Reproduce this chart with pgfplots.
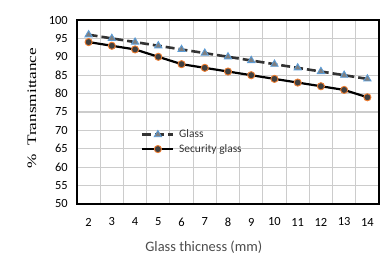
\documentclass[border=0pt]{standalone}
\usepackage{pgfplots}
\pgfplotsset{compat=1.18}
\usepackage{graphicx}
\usepackage{fontspec}
\setmainfont{Carlito}
\newfontfamily\serifx{Liberation Serif}
\definecolor{gridc}{HTML}{CCCCCC}
\definecolor{lnc}{HTML}{333333}
\definecolor{mk}{HTML}{404040}
\definecolor{bluee}{HTML}{5B9BD5}
\definecolor{trif}{HTML}{7F7F7F}
\definecolor{orangee}{HTML}{ED7D31}
\begin{document}
\begin{tikzpicture}
\path[use as bounding box] (0,0) rectangle (392bp,260bp);
\begin{axis}[
  at={(77bp,56bp)}, anchor=south west,
  scale only axis, width=302bp, height=184bp,
  xmin=1.5, xmax=14.5, ymin=50, ymax=100,
  xtick={2,...,14}, ytick={50,55,...,100},
  minor xtick={1.5,2.5,...,14.5},
  xmajorgrids=false, xminorgrids=true, ymajorgrids=true,
  minor grid style={gridc, line width=1.1bp},
  major grid style={gridc, line width=1.1bp},
  major tick length=0pt, minor tick length=0pt,
  axis line style={black, line width=2.4bp},
  tick label style={font=\fontsize{12.5}{13}\selectfont, text=black, inner sep=0pt},
  /pgf/number format/assume math mode=true,
  xticklabel style={anchor=center, yshift=-18bp},
  yticklabel style={anchor=east, xshift=-9bp},
  xlabel={Glass thicness (mm)},
  xlabel style={at={(axis description cs:0.42,-0.234)}, anchor=center,
    font=\fontsize{14.5}{15}\selectfont, text=black!70},
  ylabel={\scalebox{1.33}[1]{\serifx\%\ \ Transmittance}},
  ylabel style={at={(axis description cs:-0.149,0.52)}, anchor=center,
    font=\fontsize{13}{14}\selectfont},
  legend style={at={(0.2,0.42)}, anchor=north west, draw=none, fill=none,
    font=\fontsize{11.5}{12}\selectfont, row sep=3bp, text=black!80,
    nodes={inner sep=1bp}},
  legend cell align=left,
  legend image code/.code={
    \draw[#1] (0bp,0bp) -- (31bp,0bp);
    \draw[#1, only marks] plot coordinates {(16bp,0bp)};
    \path (35bp,0bp);
  },
]
\addplot[lnc, line width=2.6bp, dash pattern=on 9bp off 4bp,
  mark=triangle*, mark size=4.2pt,
  mark options={solid, fill=trif, draw=bluee, line width=0.9pt}]
  coordinates {(2,96)(3,95)(4,94)(5,93)(6,92)(7,91)(8,90)(9,89)(10,88)(11,87)(12,86)(13,85)(14,84)};
\addlegendentry{Glass}
\addplot[black, line width=2.2bp,
  mark=*, mark size=3.6pt,
  mark options={solid, fill=mk, draw=orangee, line width=0.9pt}]
  coordinates {(2,94)(3,93)(4,92)(5,90)(6,88)(7,87)(8,86)(9,85)(10,84)(11,83)(12,82)(13,81)(14,79)};
\addlegendentry{Security glass}
\end{axis}
\end{tikzpicture}
\end{document}
